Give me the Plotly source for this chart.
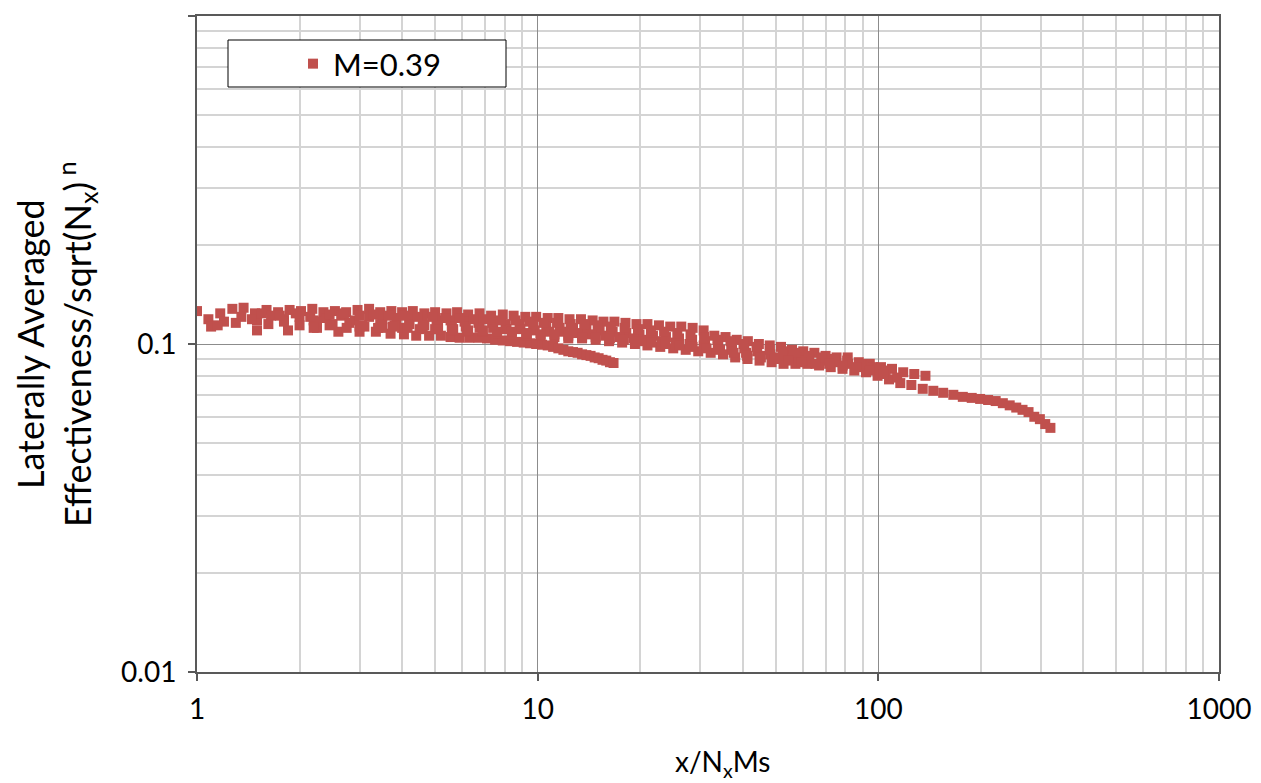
import plotly.graph_objects as go

# ---- data ----
# upper strand
a_x = [1.0, 1.08, 1.17, 1.27, 1.37, 1.48, 1.6, 1.73, 1.87, 2.02, 2.18, 2.35, 2.54, 2.74, 2.96,
       3.2, 3.45, 3.72, 4.0, 4.3, 4.65, 5.0, 5.4, 5.8, 6.25, 6.75, 7.3, 7.9, 8.5, 9.2, 9.9,
       10.7, 11.5, 12.4, 13.4, 14.5, 15.6, 16.8, 18.1, 19.5, 21, 22.7, 24.5, 26.4, 28.5,
       30.7, 33, 35.6, 38.4, 41.4, 44.6, 48, 51.8, 55.8, 60.2, 64.9, 70, 75.4, 81.3, 87.6,
       94.4, 101.8, 109.7, 118.3, 127.5, 137.5]
a_y = [0.126, 0.119, 0.124, 0.128, 0.129, 0.124, 0.127, 0.125, 0.127, 0.126, 0.128, 0.125,
       0.126, 0.125, 0.127, 0.128, 0.125, 0.126, 0.125, 0.126, 0.124, 0.125, 0.124, 0.125,
       0.123, 0.124, 0.122, 0.123, 0.122, 0.121, 0.121, 0.120, 0.120, 0.119, 0.119, 0.118,
       0.117, 0.117, 0.116, 0.115, 0.115, 0.114, 0.113, 0.113, 0.112, 0.110, 0.106, 0.105,
       0.103, 0.102, 0.100, 0.099, 0.098, 0.096, 0.095, 0.094, 0.092, 0.091, 0.091, 0.088,
       0.087, 0.085, 0.084, 0.082, 0.081, 0.080]

# short lower strand
b_x = [1.1, 1.5, 1.85, 2.25, 2.6, 3.0, 3.35, 3.7, 4.05, 4.4, 4.8, 5.2, 5.55, 5.9, 6.3, 6.7,
       7.1, 7.5, 7.9, 8.3, 8.7, 9.1, 9.5, 9.9, 10.3, 10.7, 11.1, 11.5, 11.9, 12.3, 12.7,
       13.1, 13.5, 13.9, 14.3, 14.7, 15.1, 15.5, 15.9, 16.3, 16.7]
b_y = [0.113, 0.110, 0.110, 0.112, 0.109, 0.109, 0.109, 0.1075, 0.107, 0.106, 0.106, 0.106,
       0.105, 0.1045, 0.1045, 0.1045, 0.104, 0.103, 0.1025, 0.102, 0.1015, 0.101, 0.1005,
       0.100, 0.0995, 0.099, 0.098, 0.097, 0.096, 0.095, 0.0945, 0.094, 0.093, 0.0925,
       0.092, 0.091, 0.0905, 0.0895, 0.089, 0.088, 0.0875]

# long lower strand with tail
c_x = [3.0, 3.5, 4.0, 4.5, 5.0, 5.6, 6.2, 6.9, 7.6, 8.4, 9.3, 10.2, 11.2, 12.3, 13.5, 14.8,
       16.2, 17.7, 19.3, 21, 22.9, 25, 27.2, 29.6, 32.2, 35, 38, 41.3, 44.8, 48.6, 52.7,
       57.1, 61.9, 67, 72.5, 78.5, 85, 92, 99.5, 107.5, 116, 125, 135, 145, 155, 166, 177,
       188, 199, 210, 221, 232, 243, 254, 265, 276, 287, 298, 309, 320]
c_y = [0.113, 0.112, 0.112, 0.111, 0.111, 0.110, 0.109, 0.109, 0.108, 0.107, 0.106, 0.106,
       0.105, 0.104, 0.104, 0.103, 0.102, 0.101, 0.100, 0.099, 0.098, 0.097, 0.096, 0.095,
       0.094, 0.093, 0.091, 0.090, 0.089, 0.088, 0.087, 0.087, 0.087, 0.086, 0.085, 0.084,
       0.083, 0.082, 0.080, 0.078, 0.076, 0.075, 0.073, 0.072, 0.071, 0.070, 0.069, 0.0685,
       0.068, 0.0675, 0.067, 0.066, 0.065, 0.064, 0.063, 0.062, 0.060, 0.059, 0.057, 0.0555]

# middle strands
d_x = [1.2, 1.35, 1.5, 1.65, 1.8, 2.0, 2.2, 2.4, 2.65, 2.9, 3.2, 3.5, 3.85, 4.2, 4.6, 5.05,
       5.55, 6.1, 6.7, 7.35, 8.05, 8.85, 9.7, 10.6, 11.6, 12.7, 13.9, 15.2, 16.6, 18.2,
       19.9, 21.8, 23.8, 26, 28.4, 31, 33.9, 37, 40.4, 44.1, 48.2, 52.6, 57.4, 62.7, 68.4,
       74.7, 81.5, 89]
d_y = [0.117, 0.121, 0.118, 0.122, 0.119, 0.121, 0.118, 0.120, 0.122, 0.118, 0.121, 0.119,
       0.120, 0.119, 0.119, 0.118, 0.118, 0.117, 0.116, 0.116, 0.115, 0.115, 0.114, 0.113,
       0.112, 0.112, 0.111, 0.110, 0.109, 0.108, 0.107, 0.106, 0.105, 0.104, 0.103, 0.102,
       0.101, 0.099, 0.097, 0.095, 0.093, 0.092, 0.091, 0.090, 0.089, 0.088, 0.087, 0.086]

e_x = [1.15, 1.3, 1.45, 1.62, 1.8, 2.0, 2.25, 2.5, 2.8, 3.1, 3.45, 3.8, 4.2, 4.65, 5.1, 5.6,
       6.15, 6.75, 7.4, 8.1, 8.9, 9.8, 10.8, 11.9, 13.1, 14.4, 15.8, 17.4, 19.1, 21, 23.1,
       25.4, 27.9, 30.7, 33.8, 37.2, 40.9, 45, 49.5, 54.5, 60]
e_y = [0.114, 0.116, 0.119, 0.115, 0.117, 0.114, 0.117, 0.115, 0.116, 0.113, 0.115, 0.114,
       0.115, 0.114, 0.114, 0.113, 0.113, 0.112, 0.112, 0.111, 0.111, 0.110, 0.109, 0.109,
       0.108, 0.107, 0.106, 0.105, 0.104, 0.103, 0.102, 0.101, 0.100, 0.099, 0.098, 0.096,
       0.094, 0.092, 0.091, 0.090, 0.089]

f_x = [1.55, 1.75, 1.95, 2.15, 2.45, 2.7, 3.0, 3.3, 3.65, 4.05, 4.45, 4.9, 5.35, 5.9, 6.5,
       7.1, 7.8, 8.6, 9.45, 10.4, 11.4, 12.5, 13.7, 15.0, 16.4, 18.0, 19.7, 21.5, 23.5, 25.7,
       28.1, 30.8, 33.7, 36.8, 40.2, 43.9, 48.0, 52.4, 57.2, 62.4, 68.0, 74.2, 81, 88.4,
       96.5, 105]
f_y = [0.124, 0.122, 0.124, 0.121, 0.123, 0.124, 0.122, 0.123, 0.122, 0.122, 0.121, 0.121,
       0.120, 0.120, 0.119, 0.119, 0.118, 0.118, 0.117, 0.116, 0.116, 0.115, 0.115, 0.114,
       0.113, 0.112, 0.111, 0.110, 0.109, 0.108, 0.107, 0.105, 0.103, 0.102, 0.100, 0.098,
       0.096, 0.095, 0.094, 0.092, 0.091, 0.090, 0.089, 0.087, 0.085, 0.083]

g_x = [2.2, 2.45, 2.75, 3.05, 3.4, 3.75, 4.15, 4.6, 5.1, 5.65, 6.25, 6.9, 7.6, 8.4, 9.25,
       10.2, 11.2, 12.3, 13.5, 14.8, 16.3, 17.9, 19.7, 21.6, 23.7, 26, 28.5, 31.3, 34.3,
       37.6, 41.2, 45.2, 49.6, 54.4, 59.6, 65.4, 71.7, 78.6, 86.2, 94.5, 103.6, 113.6]
g_y = [0.112, 0.114, 0.112, 0.114, 0.112, 0.113, 0.112, 0.112, 0.111, 0.111, 0.110, 0.110,
       0.109, 0.109, 0.108, 0.107, 0.107, 0.106, 0.105, 0.105, 0.104, 0.103, 0.102, 0.101,
       0.100, 0.099, 0.098, 0.097, 0.096, 0.094, 0.092, 0.091, 0.090, 0.089, 0.088, 0.087,
       0.087, 0.086, 0.085, 0.083, 0.081, 0.079]

series_name = "M=0.39"
x_ticks = [1, 10, 100, 1000]
x_tick_text = ["1", "10", "100", "1000"]
y_ticks = [0.01, 0.1, 1]
y_tick_text = ["0.01", "0.1", "1"]
x_minor = [2, 3, 4, 5, 6, 7, 8, 9, 20, 30, 40, 50, 60, 70, 80, 90, 200, 300, 400, 500, 600, 700, 800, 900]
y_minor = [0.02, 0.03, 0.04, 0.05, 0.06, 0.07, 0.08, 0.09, 0.2, 0.3, 0.4, 0.5, 0.6, 0.7, 0.8, 0.9]

x_all = a_x + b_x + c_x + d_x + e_x + f_x + g_x
y_all = a_y + b_y + c_y + d_y + e_y + f_y + g_y

FONT = "Lato"
RED = "#C0504D"

fig = go.Figure()
fig.add_trace(go.Scatter(
    x=x_all, y=y_all, mode="markers", name=series_name,
    marker=dict(symbol="square", size=10, color=RED, line=dict(width=0)),
    showlegend=True,
))

axis_common = dict(
    showgrid=True, gridcolor="#8c8c8c", gridwidth=1,
    showline=True, linecolor="#595959", linewidth=2, mirror=True,
    ticks="outside", ticklen=7, tickwidth=1.5, tickcolor="#595959",
    tickfont=dict(family=FONT, size=28, color="black"),
    zeroline=False, automargin=False,
)

# page body has an 8px margin, so the figure is sized/offset to land the plot area at 197..1219 x 16..672
fig.update_layout(
    width=1253, height=775,
    margin=dict(l=189, r=42, t=8, b=111, autoexpand=False),
    paper_bgcolor="white", plot_bgcolor="white",
    font=dict(family=FONT, color="black"),
    xaxis=dict(type="log", range=[0, 3], tickmode="array", tickvals=x_ticks, ticktext=x_tick_text,
               minor=dict(tickmode="array", tickvals=x_minor, showgrid=True, gridcolor="#d4d4d4",
                          gridwidth=1.5, ticks=""),
               ticklabelstandoff=4, **axis_common),
    yaxis=dict(type="log", range=[-2, 0], tickmode="array", tickvals=y_ticks, ticktext=y_tick_text,
               minor=dict(tickmode="array", tickvals=y_minor, showgrid=True, gridcolor="#d4d4d4",
                          gridwidth=1.5, ticks=""),
               ticklabelstandoff=6, **axis_common),
    showlegend=True,
    legend=dict(x=(293 - 197) / 1022, y=(672 - 64) / 656, xanchor="left", yanchor="middle",
                bgcolor="rgba(0,0,0,0)", borderwidth=0,
                font=dict(family=FONT, size=31, color="black")),
    shapes=[dict(type="rect", xref="paper", yref="paper",
                 x0=(228 - 197) / 1022, x1=(506 - 197) / 1022,
                 y0=(672 - 87) / 656, y1=(672 - 40) / 656,
                 fillcolor="white", line=dict(color="black", width=1), layer="above")],
    annotations=[
        dict(text="x/N<sub>x</sub>Ms", xref="paper", yref="paper",
             x=(722 - 197) / 1022, y=-(763 - 672) / 656, xanchor="center", yanchor="middle",
             showarrow=False, font=dict(family=FONT, size=28, color="black")),
        dict(text="Laterally Averaged<br>Effectiveness/sqrt(N<sub>x</sub>)<sup> n</sup>",
             xref="paper", yref="paper", x=(55 - 197) / 1022, y=0.5,
             xanchor="center", yanchor="middle", textangle=-90, showarrow=False,
             font=dict(family=FONT, size=36, color="black")),
    ],
)

fig.write_html("out.html")
